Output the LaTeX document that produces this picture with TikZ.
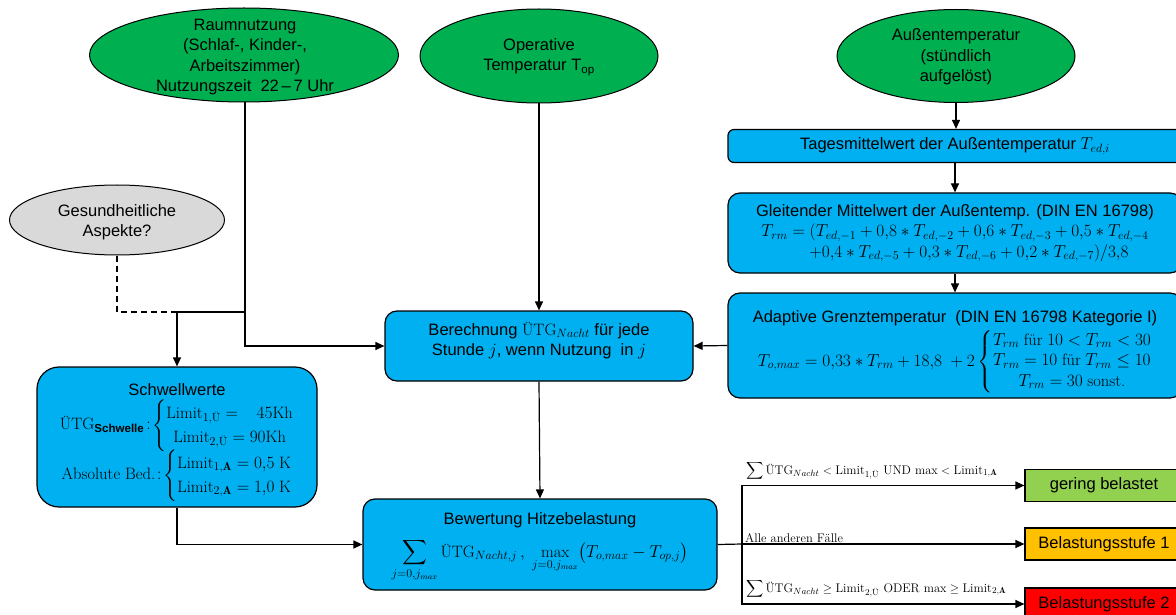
\documentclass[tikz,border=0pt]{standalone}
\usepackage{amsmath}
\usepackage{fontspec}
\newfontfamily\arial{Liberation Sans}
\usetikzlibrary{arrows.meta,shapes.geometric}
\definecolor{cyanbox}{HTML}{00B0F0}
\definecolor{greenell}{HTML}{00B050}
\definecolor{grayell}{HTML}{D9D9D9}
\definecolor{lightgreen}{HTML}{92D050}
\definecolor{orangebox}{HTML}{FFC000}
\definecolor{redbox}{HTML}{FF0000}
\newcommand\fs{\fontsize{16.5}{20.5}\selectfont}
\newcommand\lfs{\fontsize{12.5}{15}\selectfont}
\newcommand\tx[1]{\text{\rmfamily #1}}
\tikzset{
  box/.style={draw=black, line width=1.2pt, fill=cyanbox, rounded corners=12pt, align=center, font=\arial\fs, inner sep=0pt},
  resbox/.style={draw=black, line width=1.2pt, align=center, font=\arial\fs, inner sep=0pt, minimum width=158pt, minimum height=32pt},
  ell/.style={ellipse, draw=black, line width=1pt, fill=greenell, inner sep=0pt},
  etxt/.style={align=center, font=\arial\fs, inner sep=0pt},
  lab/.style={font=\lfs, inner sep=0pt},
  lin/.style={line width=1.2pt},
  arr/.style={line width=1.2pt, -{Triangle[length=9pt,width=8pt]}},
}
\begin{document}
\begin{tikzpicture}[x=1pt,y=-1pt]
\useasboundingbox (0,0) rectangle (1176,615);
\clip (0,0) rectangle (1176,615);
\fill[white] (0,0) rectangle (1176,615);
% ellipses
\node[ell, minimum width=309pt, minimum height=94pt] (raum) at (244,55) {};
\node[etxt] (raumtxt) at (245,57) {Raumnutzung\\(Schlaf-, Kinder-,\\Arbeitszimmer)\\Nutzungszeit\ \ 22\,–\,7 Uhr};
\node[ell, minimum width=238pt, minimum height=94pt] (oper) at (539,56) {};
\node[etxt] (opertxt) at (539,57) {Operative\\Temperatur T\textsubscript{op}};
\node[ell, minimum width=238pt, minimum height=93pt] (aussen) at (956,56) {};
\node[etxt] (aussentxt) at (956,57) {Außentemperatur\\(stündlich\\aufgelöst)};
\node[ell, fill=grayell, minimum width=215pt, minimum height=70pt] (gesund) at (117,220) {};
\node[etxt] (gesundtxt) at (117,222) {Gesundheitliche\\Aspekte?};
% boxes
\node[box, rounded corners=6pt, minimum width=454pt, minimum height=33pt] (tages) at (955,146)
  {Tagesmittelwert der Außentemperatur $T_{ed,i}$};
\node[box, minimum width=454pt, minimum height=80pt] (gleit) at (955,233)
  {Gleitender Mittelwert der Außentemp. (DIN EN 16798)\\
   $T_{rm} = (T_{ed,-1} + 0{,}8 \ast T_{ed,-2} + 0{,}6 \ast T_{ed,-3} + 0{,}5 \ast T_{ed,-4}$\\
   \hspace*{28pt}$+0{,}4 \ast T_{ed,-5} + 0{,}3 \ast T_{ed,-6} + 0{,}2 \ast T_{ed,-7})/3{,}8$};
\node[box, minimum width=454pt, minimum height=105pt] (adapt) at (955,345.5)
  {\rule{0pt}{24pt}Adaptive Grenztemperatur\ \ (DIN EN 16798 Kategorie I)\\[4pt]
   $T_{o,max} = 0{,}33 \ast T_{rm} + 18{,}8\ + 2\left\{\begin{array}{@{}c@{}}
     T_{rm}\ \tx{für}\ 10 < T_{rm} < 30\\
     T_{rm} = 10\ \tx{für}\ T_{rm} \le 10\\
     T_{rm} = 30\ \tx{sonst.}\end{array}\right.$};
\node[box, minimum width=308pt, minimum height=70pt] (bere) at (539,346)
  {Berechnung $\tx{ÜTG}_{Nacht}$ für jede\\Stunde $j$, wenn Nutzung\ \ in $j$\\[-12pt]\strut};
\node[box, rounded corners=22pt, minimum width=280pt, minimum height=140pt,
      font={\arial\fs\def\arraystretch{1.17}}] (schw) at (177,437)
  {\rule{0pt}{23pt}Schwellwerte\\[3pt]
   $\tx{ÜTG}_{\text{\arial\bfseries Schwelle}}\!:\!\left\{\begin{array}{@{}c@{}}
     \tx{Limit}_{1,\tx{Ü}} = \ \ \ 45\tx{Kh}\\
     \tx{Limit}_{2,\tx{Ü}} = 90\tx{Kh}\end{array}\right.$\\[-3pt]
   $\tx{Absolute Bed.}\!:\!\left\{\begin{array}{@{}l@{}}
     \tx{Limit}_{1,\mathbf{A}} = 0{,}5\ \tx{K}\\
     \tx{Limit}_{2,\mathbf{A}} = 1{,}0\ \tx{K}\end{array}\right.$};
\node[box, minimum width=354pt, minimum height=91pt] (bewert) at (540,544.5)
  {\rule{0pt}{17pt}Bewertung Hitzebelastung\\[10pt]
   $\displaystyle\sum_{j=0,j_{max}} \tx{ÜTG}_{Nacht,j}\,,\ \max_{j=0,j_{max}}\bigl(T_{o,max} - T_{op,j}\bigr)$};
\node[resbox, fill=lightgreen] (gering) at (1104,485.5) {gering belastet};
\node[resbox, fill=orangebox] (stufe1) at (1104,544) {Belastungsstufe 1};
\node[resbox, fill=redbox] (stufe2) at (1104,604) {Belastungsstufe 2};
% junctions
\coordinate (j1) at (245,312);
\coordinate (j2) at (177,312);
\coordinate (br) at (742,544);
% connectors
\draw[arr] (raum.south -| j1) -- (j1 |- bere.west) -- (bere.west);
\draw[lin] (j1) -- (j2);
\draw[arr] (j2) -- (schw.north);
\draw[lin, dash pattern=on 6pt off 4pt] (gesund.south) |- (j2);
\draw[arr] (oper.south) -- (bere.north);
\draw[arr] (aussen.south) -- (tages.north -| aussen.south);
\draw[arr] (tages.south) -- (gleit.north);
\draw[arr] (gleit.south) -- (adapt.north);
\draw[arr] (adapt.west) -- (bere.east);
\draw[arr] (bere.south) -- (bewert.north);
\draw[arr] (schw.south) |- (bewert.west);
\draw[lin] (bewert.east) -- (br);
\draw[arr] (br) |- (gering.west);
\draw[arr] (br) -- (stufe1.west);
\draw[arr] (br) |- (stufe2.west);
% labels
\node[lab, anchor=base west] (lab1) at (746,474)
  {$\displaystyle\sum \tx{ÜTG}_{Nacht} < \tx{Limit}_{1,\tx{Ü}}\ \tx{UND max} < \tx{Limit}_{1,\mathbf{A}}$};
\node[lab, anchor=base west] (lab2) at (745,542) {Alle anderen Fälle};
\node[lab, anchor=base west] (lab3) at (746,592)
  {$\displaystyle\sum \tx{ÜTG}_{Nacht} \ge \tx{Limit}_{2,\tx{Ü}}\ \tx{ODER max} \ge \tx{Limit}_{2,\mathbf{A}}$};
\end{tikzpicture}
\end{document}
